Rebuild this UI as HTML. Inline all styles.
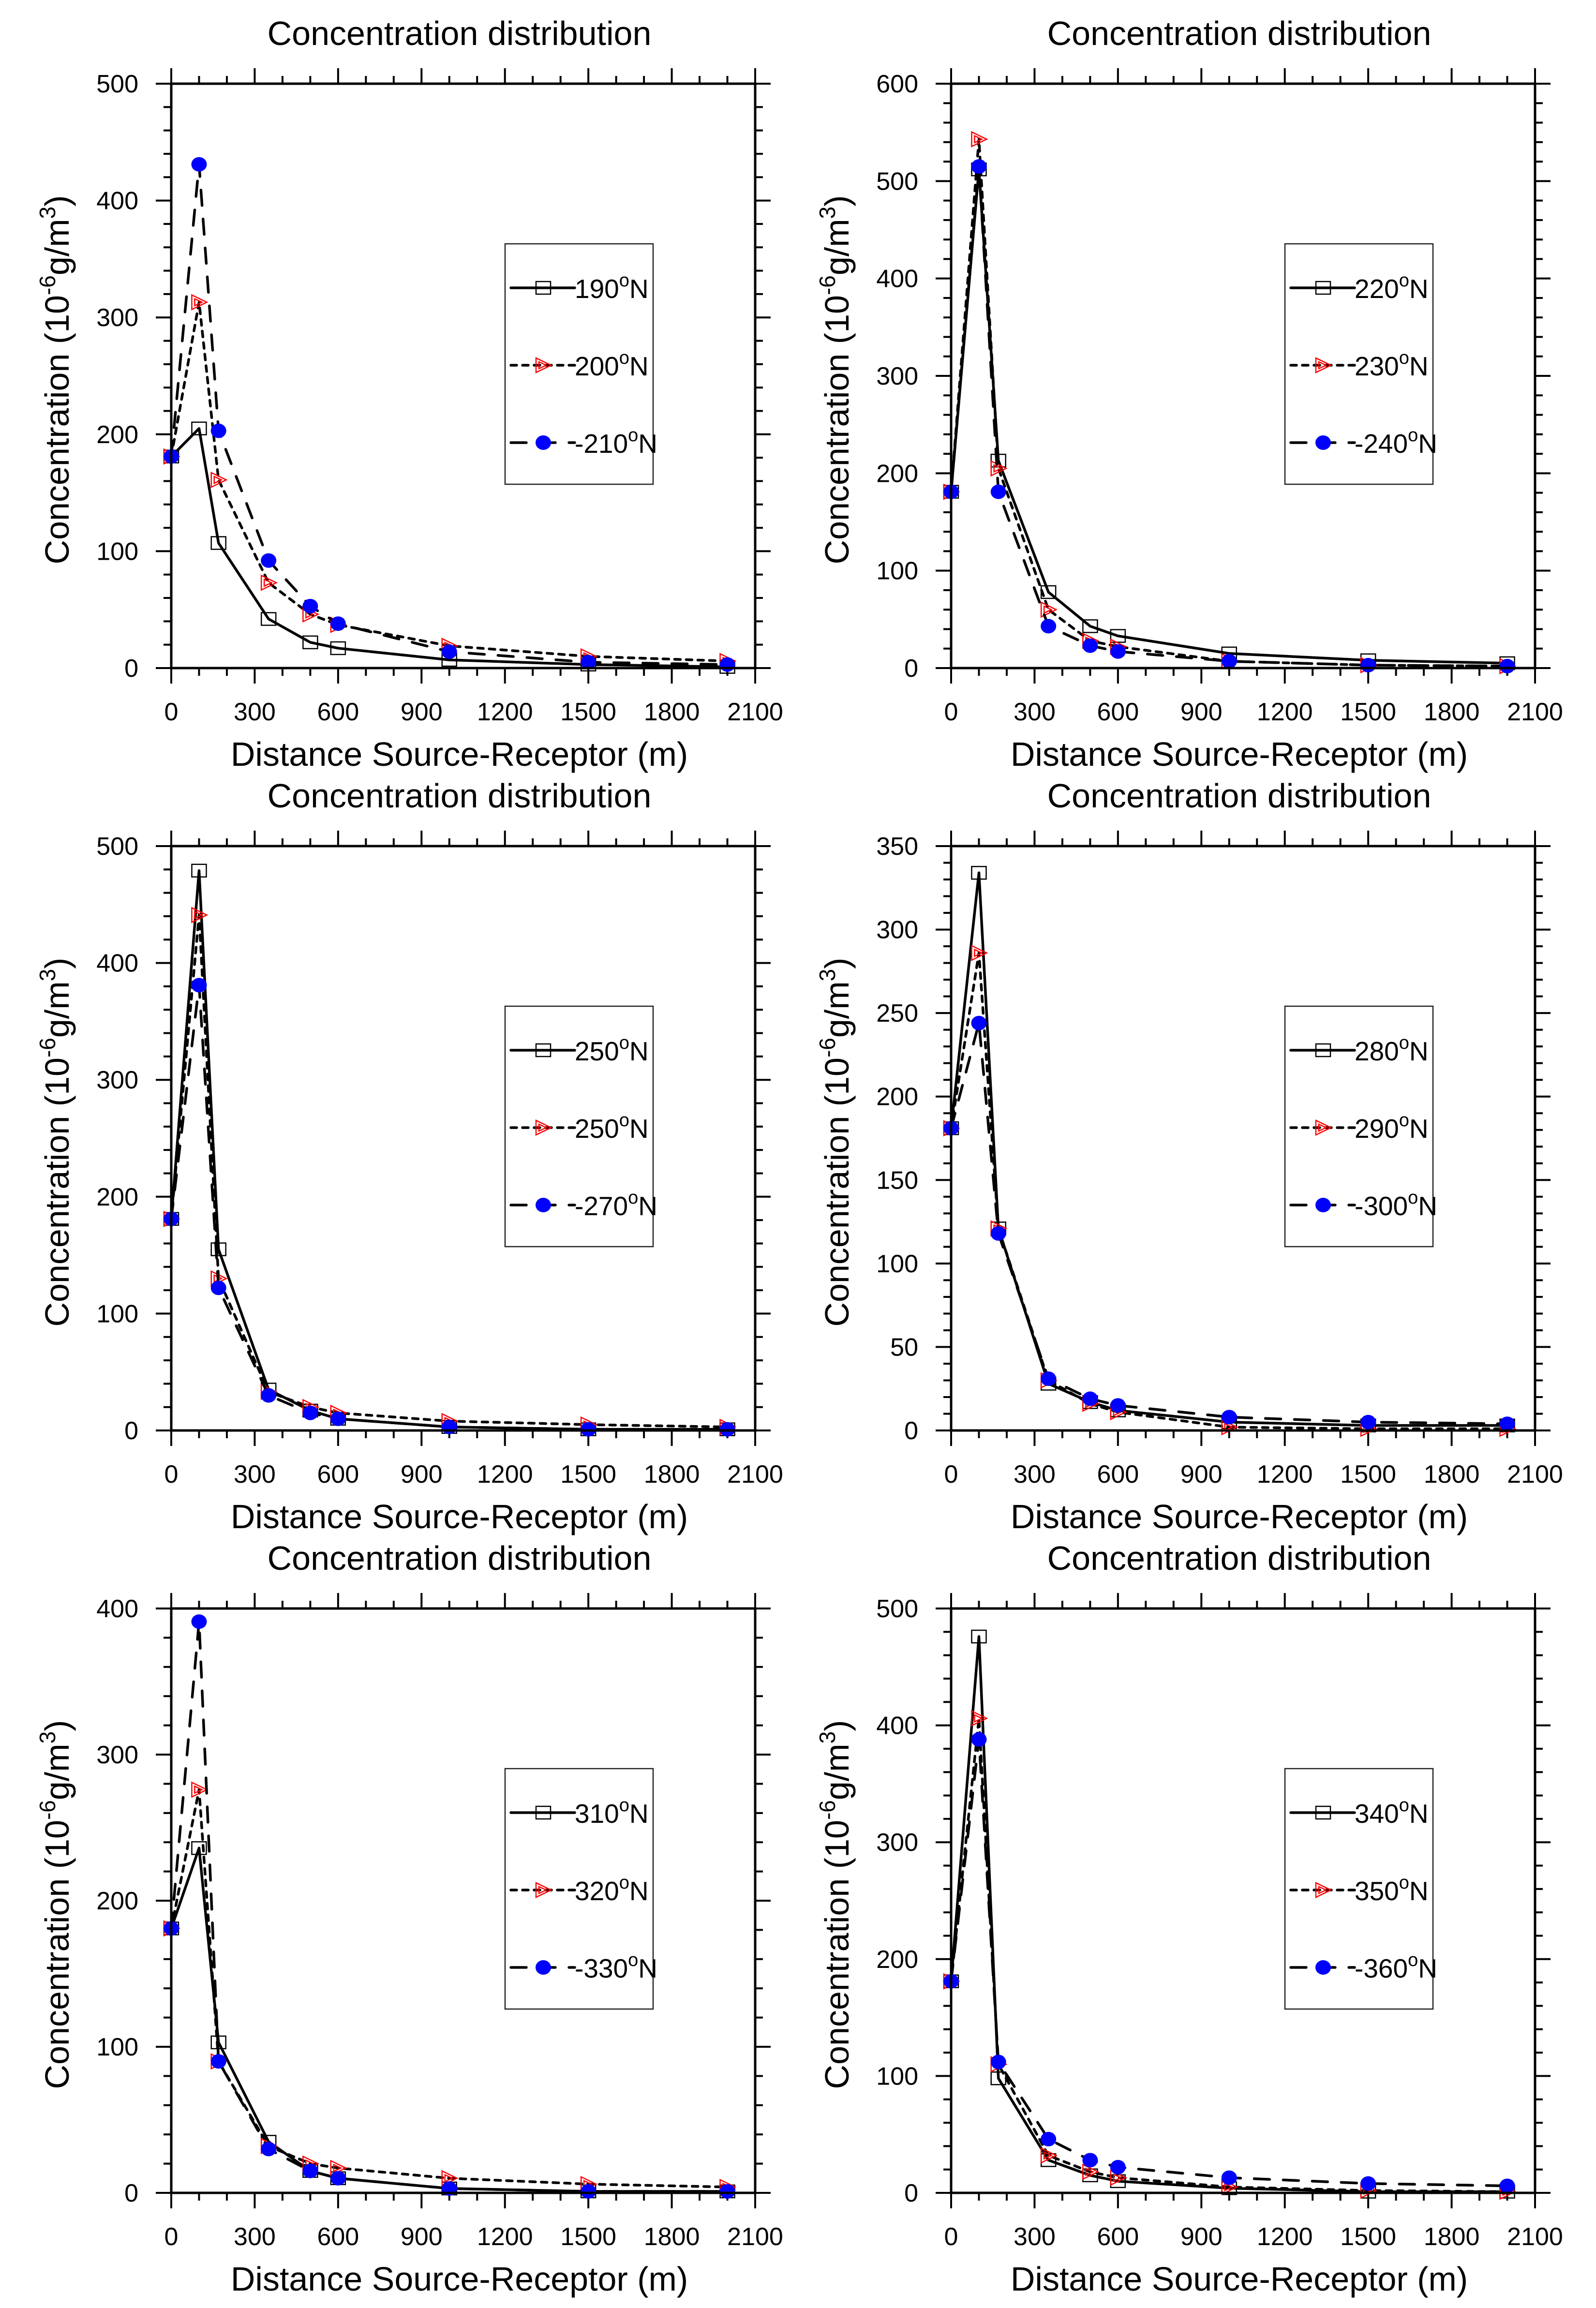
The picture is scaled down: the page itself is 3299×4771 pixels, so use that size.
<!DOCTYPE html>
<html><head><meta charset="utf-8"><style>
html,body{margin:0;padding:0;background:#fff}
svg{display:block}
text{font-family:"Liberation Sans",sans-serif;fill:#000}
</style></head><body>
<svg id="chart" width="3299" height="4771" viewBox="0 0 3299 4771" xmlns="http://www.w3.org/2000/svg"></svg>
<script>
const xValues = [0, 100, 170, 350, 500, 600, 1000, 1500, 2000];
const xTickLabels = ["0","300","600","900","1200","1500","1800","2100"];
const panelLabels = [
  ["190","200","-210"],["220","230","-240"],
  ["250","250","-270"],["280","290","-300"],
  ["310","320","-330"],["340","350","-360"]];
const yMaxes = [500, 600, 500, 350, 400, 500];
const yMajorSteps = [100, 100, 100, 50, 100, 100];
const yMinorSteps = [20, 20, 20, 10, 20, 20];
const p1s1 = [181,205,107,42,22,17,7,3,1];
const p1s2 = [181,313,161,73,46,37,19,10,6];
const p1s3 = [181,431,203,92,53,38,14,5,3];
const p2s1 = [181,512,213,78,43,33,15,8,5];
const p2s2 = [181,543,205,60,28,22,7,3,2];
const p2s3 = [181,515,181,43,23,17,7,3,2];
const p3s1 = [181,479,155,35,17,10,3,1,1];
const p3s2 = [181,441,130,33,20,15,8,5,3];
const p3s3 = [181,381,122,30,15,10,3,1,1];
const p4s1 = [181,334,121,28,17,12,5,3,3];
const p4s2 = [181,286,121,30,16,11,2,1,1];
const p4s3 = [181,244,118,31,19,15,8,5,4];
const p5s1 = [181,236,103,35,15,10,3,1,1];
const p5s2 = [181,276,90,32,20,17,10,6,4];
const p5s3 = [181,391,90,30,15,10,3,1,1];
const p6s1 = [181,476,98,28,15,10,4,1,1];
const p6s2 = [181,406,110,32,18,13,5,2,1];
const p6s3 = [181,388,112,46,28,22,13,8,6];
const panelSeries = [[p1s1,p1s2,p1s3],[p2s1,p2s2,p2s3],[p3s1,p3s2,p3s3],[p4s1,p4s2,p4s3],[p5s1,p5s2,p5s3],[p6s1,p6s2,p6s3]];

const NS = "http://www.w3.org/2000/svg";
const svg = document.getElementById("chart");
function mk(tag, attrs, parent) {
  const e = document.createElementNS(NS, tag);
  for (const k in attrs) e.setAttribute(k, attrs[k]);
  parent.appendChild(e);
  return e;
}
const W = 1207, H = 1208, X0 = 354, Y0 = 173, DX = 1612, DY = 1576;
const dashes = ["none", "12 12", "32 28"];

function marker(g, kind, cx, cy) {
  if (kind === 0) {
    const r = mk("rect", {x: cx-15, y: cy-13, width: 30, height: 26, fill: "none", stroke: "#000", "stroke-width": 2.5}, g);
    
    
  } else if (kind === 1) {
    const t = mk("path", {d: `M${cx-15},${cy-15} L${cx+16},${cy} L${cx-15},${cy+15} Z M${cx-9},${cy-7} L${cx+6},${cy} L${cx-9},${cy+7} Z`, fill: "none", stroke: "#ff0000", "stroke-width": 2.5}, g);
    
    
  } else {
    const c = mk("ellipse", {cx: cx, cy: cy, rx: 16, ry: 15, fill: "#0000ff"}, g);
    
    
  }
}

for (let p = 0; p < 6; p++) {
  const left = X0 + (p % 2) * DX, top = Y0 + Math.floor(p / 2) * DY;
  const right = left + W, bottom = top + H;
  const ymax = yMaxes[p];
  const sx = v => left + v / 2100 * W;
  const sy = v => bottom - v / ymax * H;
  const g = mk("g", {}, svg);
  
  

  const title = mk("text", {x: (left + right) / 2 - 8, y: top - 80, "font-size": 70, "text-anchor": "middle"}, g);
  title.textContent = "Concentration distribution";
  
  

  const ticks = mk("g", {stroke: "#000", "stroke-width": 4}, g);
  
  
  for (let v = 0; v <= 2100; v += 100) {
    const L = (v % 300 === 0) ? 32 : 16;
    const x = sx(v);
    mk("line", {x1: x, y1: bottom, x2: x, y2: bottom + L}, ticks);
    mk("line", {x1: x, y1: top, x2: x, y2: top - L}, ticks);
  }
  for (let v = 0; v <= ymax + 0.001; v += yMinorSteps[p]) {
    const major = Math.abs(v / yMajorSteps[p] - Math.round(v / yMajorSteps[p])) < 1e-6;
    const L = major ? 32 : 16;
    const y = sy(v);
    mk("line", {x1: left, y1: y, x2: left - L, y2: y}, ticks);
    mk("line", {x1: right, y1: y, x2: right + L, y2: y}, ticks);
  }
  xTickLabels.forEach((lab, i) => {
    const t = mk("text", {x: sx(i * 300), y: bottom + 108, "font-size": 52, "text-anchor": "middle"}, g);
    t.textContent = lab;
    
    
  });
  for (let v = 0; v <= ymax + 0.001; v += yMajorSteps[p]) {
    const t = mk("text", {x: left - 68, y: sy(v) + 18, "font-size": 52, "text-anchor": "end"}, g);
    t.textContent = String(v);
    
    
  }
  const xt = mk("text", {x: (left + right) / 2 - 8, y: bottom + 202, "font-size": 70, "text-anchor": "middle"}, g);
  xt.textContent = "Distance Source-Receptor (m)";
  
  
  const yt = mk("text", {x: 0, y: 0, "font-size": 70, "text-anchor": "middle", transform: `translate(${left - 212},${(top + bottom) / 2 + 8}) rotate(-90)`}, g);
  yt.innerHTML = 'Concentration (10<tspan dy="-28" font-size="46">-6</tspan><tspan dy="28">g/m</tspan><tspan dy="-28" font-size="46">3</tspan><tspan dy="28">)</tspan>';
  
  

  panelSeries[p].forEach((vals, si) => {
    const sg = mk("g", {}, g);
    
    
    const pts = vals.map((v, i) => sx(xValues[i]) + "," + sy(v)).join(" ");
    const attrs = {points: pts, fill: "none", stroke: "#000", "stroke-width": 5.5, "stroke-linejoin": "round", "stroke-linecap": "round"};
    if (dashes[si] !== "none") attrs["stroke-dasharray"] = dashes[si];
    const pl = mk("polyline", attrs, sg);
    
    
    vals.forEach((v, i) => marker(sg, si, sx(xValues[i]), sy(v)));
  });

  const fr = mk("rect", {x: left, y: top, width: W, height: H, fill: "none", stroke: "#000", "stroke-width": 5}, g);
  
  

  const lg = mk("g", {}, g);
  
  
  const bx = left + 690, by = top + 331;
  mk("rect", {x: bx, y: by, width: 306, height: 497, fill: "#fff", stroke: "#222", "stroke-width": 2.5}, lg);
  for (let si = 0; si < 3; si++) {
    const ey = by + 91 + si * 160;
    const ent = mk("g", {}, lg);
    
    
    const la = {x1: bx + 12, y1: ey, x2: bx + 144, y2: ey, stroke: "#000", "stroke-width": 5.5, "stroke-linecap": "round"};
    if (dashes[si] !== "none") la["stroke-dasharray"] = dashes[si];
    mk("line", la, ent);
    marker(ent, si, bx + 79, ey);
    const t = mk("text", {x: bx + 144, y: ey + 21, "font-size": 55}, ent);
    t.innerHTML = panelLabels[p][si] + '<tspan dy="-24" font-size="38">o</tspan><tspan dy="24">N</tspan>';
  }
}
</script>
</body></html>
